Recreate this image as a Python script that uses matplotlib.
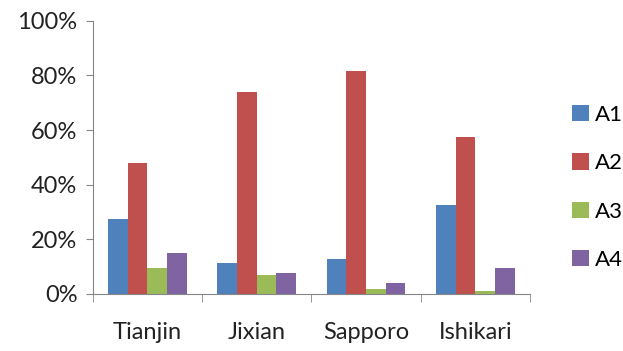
import numpy as np
import matplotlib
matplotlib.use("Agg")
import matplotlib.pyplot as plt
from matplotlib.ticker import FixedLocator, PercentFormatter

# datos
ciudades = ["Tianjin", "Jixian", "Sapporo", "Ishikari"]
series = ["A1", "A2", "A3", "A4"]
a1 = [27.3, 11.2, 12.8, 32.4]
a2 = [47.9, 73.8, 81.5, 57.4]
a3 = [9.5, 7.1, 1.9, 1.1]
a4 = [15.1, 7.6, 3.9, 9.5]
colores = ["#4F81BD", "#C0504D", "#9BBB59", "#8064A2"]

plt.rcParams["font.family"] = ["Lato", "DejaVu Sans"]

fig = plt.figure(figsize=(6.23, 3.51), dpi=100)
ax = fig.add_axes([0.1488, 0.1624, 0.7019, 0.7786])

x = np.arange(len(ciudades))
ancho = 0.18
valores = [a1, a2, a3, a4]
for i, (nombre, vals) in enumerate(zip(series, valores)):
    ax.bar(x + (i - 1.5) * ancho, vals, width=ancho, color=colores[i], label=nombre)

ax.set_xlim(-0.5, len(ciudades) - 0.5)
ax.set_ylim(0, 100)
ax.set_yticks(np.arange(0, 101, 20))
ax.yaxis.set_major_formatter(PercentFormatter(decimals=0))
ax.set_xticks(x)
ax.set_xticklabels(ciudades)
ax.xaxis.set_minor_locator(FixedLocator(np.arange(-0.5, len(ciudades), 1)))
ax.tick_params(axis="x", which="major", length=0, pad=20, labelsize=17, colors="#222222")
ax.tick_params(axis="x", which="minor", length=6, color="#868686")
ax.tick_params(axis="y", length=5, color="#868686", labelsize=17, labelcolor="#222222", pad=6)

for lado in ["top", "right"]:
    ax.spines[lado].set_visible(False)
for lado in ["left", "bottom"]:
    ax.spines[lado].set_color("#868686")

ax.legend(loc="center left", bbox_to_anchor=(1.05, 0.39), frameon=False,
          fontsize=16, handlelength=0.75, handleheight=0.75, handletextpad=0.3,
          labelspacing=1.27)

fig.savefig("out.png", dpi=100)
